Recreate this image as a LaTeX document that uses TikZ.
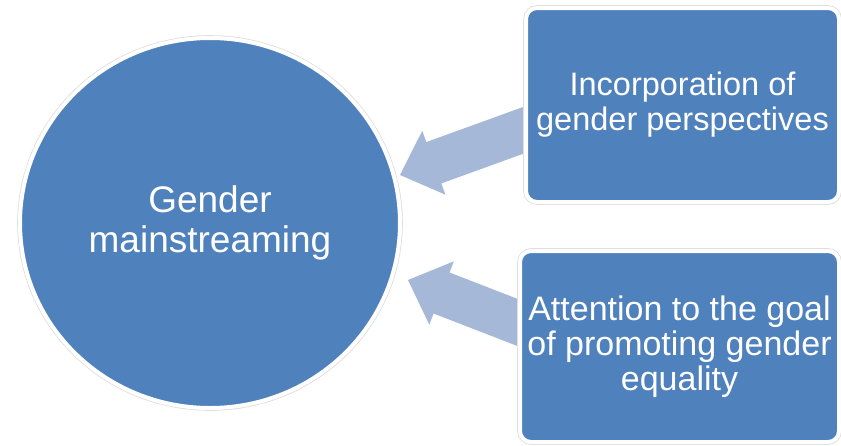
\documentclass[tikz,border=0pt]{standalone}
\usepackage{fontspec}
\setmainfont{Liberation Sans}
\usetikzlibrary{calc,shapes.geometric,shadows}
\definecolor{mainblue}{RGB}{79,129,189}
\definecolor{arrowblue}{RGB}{166,184,216}
\pgfdeclarelayer{bg}
\pgfsetlayers{bg,main}
\begin{document}
\begin{tikzpicture}[x=1pt,y=-1pt,
  shapeshadow/.style={drop shadow={shadow xshift=1.5pt,shadow yshift=-2pt,opacity=0.2,fill=black}},
  halo/.style={preaction={draw=black!13, line width=5.6pt}},
  hubshape/.style={ellipse, fill=mainblue, draw=white, line width=4pt,
    minimum width=380pt, minimum height=370pt, inner sep=0pt, text=white,
    align=center, font=\fontsize{37}{40}\selectfont, shapeshadow, halo},
  boxshape/.style={rectangle, rounded corners=11pt, fill=mainblue, draw=white,
    line width=4pt, inner sep=0pt, text=white, align=center, shapeshadow, halo},
  blockarrow/.style={fill=arrowblue}]
\useasboundingbox (0,0) rectangle (841,445);

\node[hubshape] (hub) at (210,223) {Gender\\mainstreaming};
\node[boxshape, minimum width=313pt, minimum height=194pt,
      font=\fontsize{32.5}{35}\selectfont] (b1) at (682.5,105)
      {Incorporation of\\gender perspectives};
\node[boxshape, minimum width=319pt, minimum height=191pt,
      font=\fontsize{34}{35}\selectfont] (b2) at (679.5,346.5)
      {Attention to the goal\\of promoting gender\\equality};

\coordinate (t1) at ($(hub.center)+(190,-48)$);
\coordinate (s1) at ($(b1.west)+(25,16)$);
\coordinate (t2) at ($(hub.center)+(198,57)$);
\coordinate (s2) at ($(b2.west)+(28,-13)$);

\begin{pgfonlayer}{bg}
\foreach \s/\t in {s1/t1, s2/t2}{
  \coordinate (hb) at ($(\t)!36pt!(\s)$);
  \fill[blockarrow]
    ($(\s)!22pt!90:(\t)$) -- ($(hb)!22pt!90:(\t)$) -- ($(hb)!34pt!90:(\t)$)
    -- (\t) -- ($(hb)!34pt!-90:(\t)$) -- ($(hb)!22pt!-90:(\t)$)
    -- ($(\s)!22pt!-90:(\t)$) -- cycle;
}
\end{pgfonlayer}
\end{tikzpicture}
\end{document}
